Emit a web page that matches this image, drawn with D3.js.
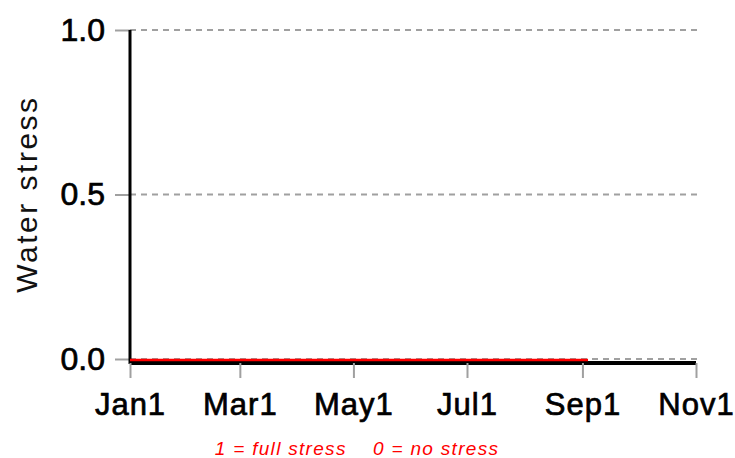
<!DOCTYPE html>
<html>
<head>
<meta charset="utf-8">
<script src="https://cdn.jsdelivr.net/npm/d3@7"></script>
<style>
  body { margin: 0; background: #fff; }
  svg { display: block; font-family: "Liberation Sans", Arial, sans-serif; }
</style>
</head>
<body>
<svg id="chart" width="735" height="458"></svg>
<script>
// water stress series (0 = no stress, 1 = full stress)
const stressDates = ['2001-01-01', '2001-02-01', '2001-03-01', '2001-04-01', '2001-05-01',
    '2001-06-01', '2001-07-01', '2001-08-01', '2001-09-04']
const stressValues = [0, 0, 0, 0, 0, 0, 0, 0, 0]

const xTickDates = ['2001-01-01', '2001-03-01', '2001-05-01', '2001-07-01', '2001-09-01', '2001-11-01']
const xTickLabels = ['Jan1', 'Mar1', 'May1', 'Jul1', 'Sep1', 'Nov1']
const yTicks = [0, 0.5, 1]
const yTickLabels = ['0.0', '0.5', '1.0']
const xDomain = ['2001-01-01', '2001-11-01']

const parse = d3.timeParse('%Y-%m-%d')
const svg = d3.select('#chart')

const x = d3.scaleTime()
    .domain(xDomain.map(parse))
    .range([130, 696])

const y = d3.scaleLinear()
    .domain([0, 1])
    .range([359, 30])

// dashed grid lines
svg.append('g')
    .selectAll('line')
    .data(yTicks)
    .join('line')
    .attr('x1', 130)
    .attr('x2', 700)
    .attr('y1', d => y(d))
    .attr('y2', d => y(d))
    .attr('stroke', '#a0a0a0')
    .attr('stroke-width', 2)
    .attr('stroke-dasharray', '6,5')

// y axis
const yAxis = svg.append('g')
    .attr('transform', 'translate(130,0)')
    .call(d3.axisLeft(y).tickValues(yTicks).tickSize(15).tickPadding(10)
        .tickFormat((d, i) => yTickLabels[i]))
yAxis.select('.domain').remove()
yAxis.selectAll('.tick line').attr('stroke', '#a0a0a0').attr('stroke-width', 2)
yAxis.selectAll('.tick text')
    .attr('font-size', '32px')
    .attr('fill', '#000')
    .attr('stroke', '#000')
    .attr('stroke-width', 0.7)
    .attr('font-family', '"Liberation Sans", Arial, sans-serif')

svg.append('line')
    .attr('x1', 130).attr('x2', 130)
    .attr('y1', y(1)).attr('y2', y(0) + 5)
    .attr('stroke', '#000')
    .attr('stroke-width', 3)

// x axis
const xAxis = svg.append('g')
    .attr('transform', 'translate(0,' + (y(0) + 4) + ')')
    .call(d3.axisBottom(x).tickValues(xTickDates.map(parse)).tickSize(15).tickPadding(15)
        .tickFormat((d, i) => xTickLabels[i]))
xAxis.select('.domain')
    .attr('stroke', '#000')
    .attr('stroke-width', 4)
    .attr('d', 'M130,0H696')
xAxis.selectAll('.tick line').attr('stroke', '#a0a0a0').attr('stroke-width', 2)
xAxis.selectAll('.tick text')
    .attr('font-size', '31px')
    .attr('fill', '#000')
    .attr('stroke', '#000')
    .attr('stroke-width', 0.7)
    .attr('letter-spacing', '1px')
    .attr('font-family', '"Liberation Sans", Arial, sans-serif')

// water stress line
const stressData = stressDates.map((d, i) => ({ date: parse(d), value: stressValues[i] }))
svg.append('path')
    .datum(stressData)
    .attr('fill', 'none')
    .attr('stroke', '#ff0000')
    .attr('stroke-width', 2.5)
    .attr('d', d3.line()
        .x(d => x(d.date))
        .y(d => y(d.value) + 1)
    )

// y label
svg.append('text')
    .attr('transform', 'translate(37,194) rotate(-90)')
    .attr('text-anchor', 'middle')
    .attr('font-size', '30px')
    .attr('letter-spacing', '2.5px')
    .attr('fill', '#111')
    .text('Water stress')

// note
svg.append('text')
    .attr('x', 357)
    .attr('y', 455)
    .attr('text-anchor', 'middle')
    .attr('font-size', '19px')
    .attr('font-style', 'italic')
    .attr('letter-spacing', '1.3px')
    .attr('fill', '#ff0000')
    .style('white-space', 'pre')
    .text('1 = full stress    0 = no stress')
</script>
</body>
</html>
